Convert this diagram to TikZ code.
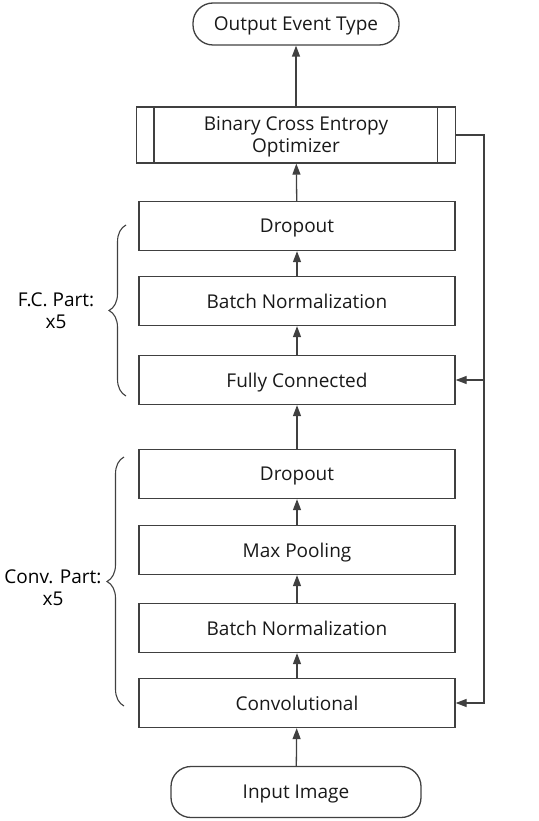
\documentclass[tikz,border=0pt]{standalone}
\usepackage{fontspec}
\setmainfont{Open Sans}
\usetikzlibrary{arrows.meta,calc,decorations.pathreplacing}
\definecolor{linegray}{HTML}{404040}
\tikzset{
  layer/.style = {draw = linegray, line width = 1.3pt, minimum width = 316pt, minimum height = 49pt, inner sep = 0pt, text depth = 0pt, text = black!90},
  terminal/.style = {draw = linegray, line width = 1.3pt, rounded corners = 20pt, inner sep = 0pt, text depth = 0pt, text = black!90},
  flow/.style = {draw = linegray, line width = 1.3pt, -{Triangle[length=11pt,width=8pt]}},
  partbrace/.style = {draw = linegray, line width = 1.1pt, decorate, decoration = {brace, amplitude = 17pt}},
}
\begin{document}
\begin{tikzpicture}[x = 1pt, y = -1pt, font = \fontsize{19}{22}\selectfont]
		\useasboundingbox (0,0) rectangle (538,821);
		
		\node (out) at (296,24) [terminal, minimum width = 206pt, minimum height = 42pt] {Output Event Type};
		\node (bce) at (296,135) [layer, minimum width = 319pt, minimum height = 56pt, align = center] {Binary Cross Entropy\\Optimizer};
		\draw [linegray, line width = 1.3pt] ($(bce.north west)+(18,0)$) -- ($(bce.south west)+(18,0)$);
		\draw [linegray, line width = 1.3pt] ($(bce.north east)+(-19,0)$) -- ($(bce.south east)+(-19,0)$);
		
		\node (fcdrop) at (297,226) [layer] {Dropout};
		\node (fcnorm) at (297,301) [layer] {Batch Normalization};
		\node (fc) at (297,380) [layer] {Fully Connected};
		
		\node (cvdrop) at (297,474) [layer] {Dropout};
		\node (pool) at (297,550) [layer] {Max Pooling};
		\node (cvnorm) at (297,628) [layer] {Batch Normalization};
		\node (conv) at (297,703) [layer] {Convolutional};
		
		\node (in) at (296,792) [terminal, minimum width = 250pt, minimum height = 51pt] {Input Image};
		
		% main flow
		\draw [flow] (in) -- (conv);
		\draw [flow] (conv) -- (cvnorm);
		\draw [flow] (cvnorm) -- (pool);
		\draw [flow] (pool) -- (cvdrop);
		\draw [flow] (cvdrop) -- (fc);
		\draw [flow] (fc) -- (fcnorm);
		\draw [flow] (fcnorm) -- (fcdrop);
		\draw [flow] (fcdrop) -- (bce);
		\draw [flow] (bce) -- (out);
		
		% feedback loop
		\coordinate (loop) at (484,703);
		\draw [flow] (bce.east) -| (loop) -- (conv.east);
		\draw [flow] (fc.east -| loop) -- (fc.east);
		
		% parts
		\draw [partbrace] (126,396) -- (126,225);
		\node (fcpart) at (56,311) [align = center] {F.C. Part:\\x5};
		\draw [partbrace] (124,706) -- (124,457);
		\node (cvpart) at (53,588) [align = center] {Conv. Part:\\x5};
		\end{tikzpicture}
\end{document}
